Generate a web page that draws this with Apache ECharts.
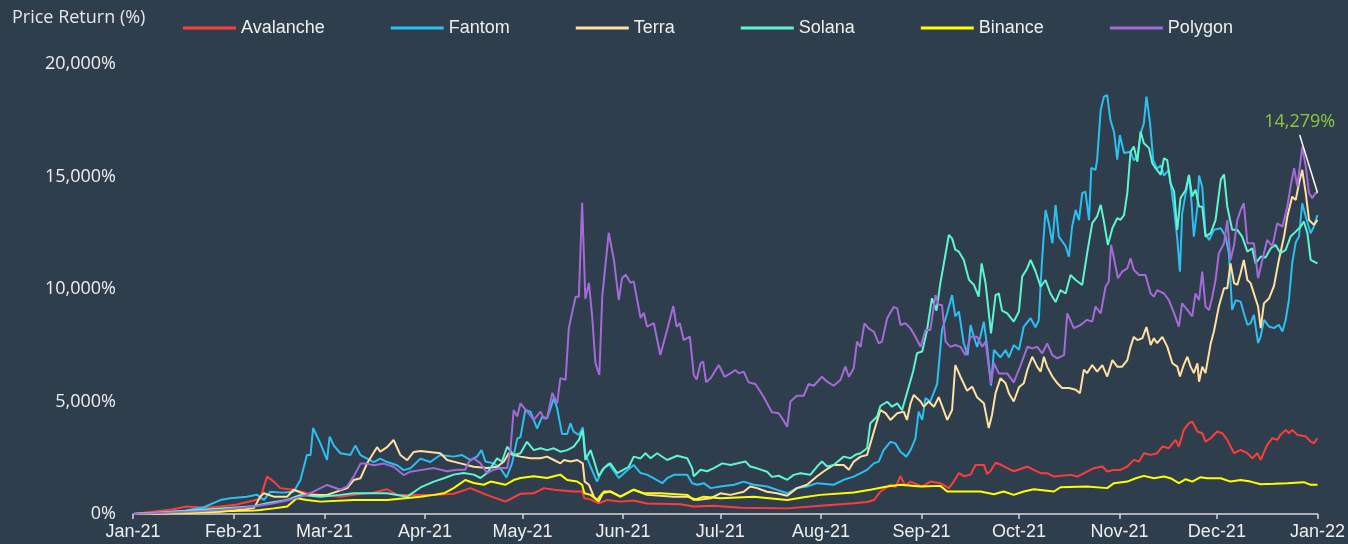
<!DOCTYPE html>
<html>
<head>
<meta charset="utf-8">
<script src="https://cdn.jsdelivr.net/npm/echarts@6/dist/echarts.min.js"></script>
<style>
  html, body { margin: 0; padding: 0; background: #2f3e4d; }
  #main { width: 1348px; height: 544px; }
</style>
</head>
<body>
<div id="main"></div>
<script>
// day of year (0 = 1 Jan 2021) and price return in %
var monthDays = [0, 31, 59, 90, 120, 151, 181, 212, 243, 273, 304, 334, 365];
var monthLabels = ['Jan-21', 'Feb-21', 'Mar-21', 'Apr-21', 'May-21', 'Jun-21', 'Jul-21', 'Aug-21', 'Sep-21', 'Oct-21', 'Nov-21', 'Dec-21', 'Jan-22'];

var avalancheDays = [0, 6, 12, 16.6, 22, 26.9, 32, 37.2, 39.2, 41.3, 43.4, 45.4, 49.5, 53.6, 57.7, 63.9, 68, 74, 78.3, 81.4, 88.6, 93.7, 98.8, 104, 109, 114.8, 119.4, 123.5, 126.6, 129.7, 135.8, 138.4, 139.1, 141, 143.5, 146.1, 150.2, 154.3, 158.4, 168.7, 172.8, 179, 187.2, 201.6, 211.8, 222.1, 226.2, 228.3, 230.3, 233.4, 235, 236.5, 238, 239.6, 243.2, 245.7, 248.8, 251.4, 252.9, 254.5, 256, 258.1, 259.6, 262.2, 263.2, 264.2, 265.8, 267.3, 269.4, 271.4, 273.5, 275.6, 277.6, 279.7, 281.7, 283.8, 288.9, 291, 294, 296.1, 298.7, 300.2, 302.3, 304.3, 306.4, 308.4, 310, 311.5, 313.6, 315.6, 317.2, 319.2, 321.3, 322.3, 323.8, 325.4, 326.4, 328, 329.5, 330.5, 332.1, 334.1, 335.7, 337.2, 339.3, 341.3, 343.4, 344.9, 346.5, 347.5, 349.5, 351.1, 352.6, 353.6, 355.2, 356.2, 357.2, 358.8, 361.4, 362.9, 363.9, 365];
var avalancheVals = [0, 100, 200, 330, 280, 330, 420, 600, 680, 1660, 1440, 1150, 1080, 920, 850, 770, 850, 950, 1100, 850, 850, 850, 900, 1150, 850, 550, 900, 920, 1150, 1080, 1000, 1000, 700, 650, 470, 620, 550, 600, 470, 430, 330, 370, 280, 250, 370, 480, 530, 620, 990, 1300, 1200, 1680, 1250, 1440, 1220, 1440, 1370, 1150, 1440, 1820, 1680, 1750, 2180, 2180, 1780, 1900, 2280, 2200, 2040, 1900, 2000, 2109, 1961, 1813, 1813, 1665, 1739, 1665, 1887, 2035, 2109, 1887, 1961, 1961, 2109, 2406, 2332, 2702, 2628, 2702, 2998, 2924, 3294, 2998, 3738, 4034, 4109, 3664, 3590, 3220, 3368, 3664, 3590, 3294, 2702, 2850, 2702, 2480, 2702, 2406, 3072, 3368, 3294, 3516, 3738, 3590, 3738, 3516, 3442, 3220, 3146, 3368];

var fantomDays = [0, 5, 11.5, 16, 21.8, 26.9, 30, 35.1, 38.2, 40.3, 42.3, 46, 49.5, 51.6, 53.6, 54.7, 55.5, 57.7, 59.8, 60.6, 61.9, 63.9, 67, 68.5, 70.1, 74.2, 76.2, 78.3, 81.4, 83.4, 85.5, 88.6, 91.6, 94.7, 98.8, 101.4, 104, 106, 107.4, 108.6, 111.2, 113.2, 115.1, 116.8, 118.4, 119.4, 120.9, 122.5, 124.5, 126.1, 127.6, 129.7, 130.7, 132.2, 133.8, 134.8, 135.8, 137.4, 138.6, 139.4, 141, 143, 144.6, 146.6, 148.2, 149.7, 151.8, 154.3, 156.4, 158.4, 160.5, 163.1, 164.6, 166.7, 170.8, 172.3, 173.9, 175.9, 178, 181, 185.2, 188.2, 191.3, 195.4, 198.5, 201.6, 204.6, 207.7, 210.8, 215.9, 219, 222.1, 226.2, 228.3, 229.8, 231.3, 233.4, 234.9, 236.5, 238.3, 239.6, 241.1, 242.1, 243.2, 244.2, 245.7, 247.8, 249.3, 250.9, 252.4, 253.4, 254.5, 256, 257.2, 258.1, 259.1, 260.1, 261.1, 262.2, 263.2, 264.4, 265.3, 267.3, 268.9, 269.9, 271.4, 273, 274.5, 276.6, 278.1, 279.1, 280, 281.2, 282.2, 283.3, 284.3, 285.3, 287.4, 288.4, 289.4, 290.5, 291.5, 292.5, 293.5, 294.6, 295.3, 296.6, 297.1, 298.2, 299.2, 300.2, 301.2, 302.3, 303.3, 304.1, 305.4, 307.4, 308.4, 309.5, 310.5, 311.5, 312.3, 313.4, 314.4, 315.6, 316.7, 317.7, 319.2, 320.8, 321.8, 322.6, 323.3, 324.4, 325.4, 326.2, 326.9, 328, 328.5, 329.5, 330.5, 331.6, 333.1, 335.2, 336.7, 337.7, 338.7, 339.8, 341.3, 342.3, 343.4, 344.4, 345.4, 346.7, 347.5, 348.5, 350.1, 351.6, 353.1, 354.2, 355.2, 356.2, 357.2, 358.3, 359.3, 360.3, 361.4, 362.9, 363.9, 365];
var fantomVals = [0, 40, 100, 150, 300, 620, 700, 770, 860, 620, 990, 950, 990, 1510, 2620, 2620, 3820, 3150, 2400, 3440, 3040, 2700, 2620, 3040, 2620, 2310, 2460, 2310, 2170, 1950, 2030, 2460, 2310, 2620, 2550, 2620, 2400, 2550, 2840, 2330, 2250, 2030, 1630, 2250, 3350, 3420, 4620, 4550, 3800, 4330, 4250, 5150, 4700, 3560, 3560, 4030, 3660, 3510, 3850, 2700, 2100, 1440, 1970, 2250, 1900, 1600, 1880, 2180, 1820, 1750, 1580, 1370, 1590, 1740, 1740, 1370, 1300, 1370, 1150, 1220, 1300, 1440, 1300, 1220, 1070, 920, 1150, 1220, 1370, 1300, 1520, 1660, 1960, 2250, 2330, 2840, 3210, 3140, 2770, 2550, 2840, 3350, 4550, 4180, 5150, 5000, 5780, 8180, 8930, 9730, 8780, 9000, 7590, 7060, 8400, 7880, 7430, 7880, 8550, 7430, 5700, 7290, 6960, 7290, 6960, 7510, 7300, 8330, 8700, 8300, 8600, 10990, 13510, 12920, 12030, 13730, 12330, 11900, 11440, 12780, 13510, 13060, 14260, 14330, 13060, 15380, 15300, 15750, 17950, 18550, 18620, 17510, 16990, 15750, 16840, 16040, 16100, 15720, 15880, 16910, 17370, 18550, 17370, 15720, 15340, 15500, 15040, 15290, 13560, 12230, 10770, 13360, 14250, 15040, 13810, 12330, 13660, 15040, 14530, 12480, 12180, 12630, 12700, 12330, 11590, 9070, 9500, 9440, 8930, 8410, 8480, 8850, 7600, 7900, 8630, 8330, 8260, 8410, 8110, 8630, 9510, 11140, 12070, 12330, 13810, 13210, 12480, 12780, 13290];

var terraDays = [0, 15, 26.9, 37.2, 39.2, 40.3, 43.4, 47.5, 49.5, 53.6, 59.8, 66, 68, 70.1, 72.1, 75.2, 76.2, 78.3, 80.3, 82.4, 84.5, 86.5, 88.6, 94.7, 96.8, 100.9, 105, 109.1, 112.2, 114.3, 115.8, 117.3, 119.4, 122.5, 125.6, 127.6, 129.7, 131.7, 132.8, 134.8, 136.9, 138.6, 139.2, 140.5, 142, 143.5, 145.1, 147.1, 150.2, 154.3, 158.4, 166.7, 170.8, 173.9, 178, 181, 184.1, 188.2, 190.2, 192.3, 195.4, 198.5, 201.6, 204.6, 207.7, 210.8, 212.9, 215.9, 219, 220.6, 222.1, 224.2, 226.2, 228.3, 230.3, 231.9, 233.4, 235.5, 237.5, 238.5, 239.6, 240.6, 242.7, 243.7, 245.2, 246.8, 248.3, 249.8, 250.9, 252.4, 253.4, 255, 257, 258.6, 260.1, 262.2, 263.7, 264.7, 265.8, 267.3, 268.9, 269.9, 271.4, 273, 274.5, 275.6, 277.1, 278.6, 279.7, 280.7, 281.7, 283.3, 284.8, 286.3, 288.4, 290.5, 291.8, 293, 294, 295.6, 297.1, 298.7, 300.2, 301.8, 303.3, 304.8, 306.4, 307.4, 308.4, 309.5, 311, 312.3, 313.6, 314.6, 315.6, 317.2, 318.7, 320.3, 321.8, 322.6, 323.8, 324.9, 325.9, 326.9, 328, 328.5, 329.5, 330.5, 332.1, 333.1, 334.6, 336.2, 337.2, 338.2, 339.3, 340.3, 341.3, 342.3, 343.4, 344.4, 345.9, 346.7, 347.5, 348.5, 350.1, 351.6, 353.1, 354.7, 355.7, 357.2, 358.3, 359.3, 360.3, 361.4, 362.4, 363.9, 365];
var terraVals = [0, 40, 100, 250, 770, 920, 770, 770, 1080, 850, 850, 1150, 1510, 1590, 2240, 2970, 2770, 2970, 3290, 2620, 2390, 2760, 2800, 2700, 2400, 2250, 2100, 2040, 2100, 2330, 2700, 2620, 2550, 2480, 2480, 2550, 2400, 2250, 2400, 2330, 2400, 2250, 1440, 1300, 770, 550, 1000, 1000, 770, 1080, 850, 770, 770, 620, 700, 920, 850, 990, 1220, 1150, 990, 920, 810, 1150, 1300, 1680, 1900, 2180, 2180, 1970, 2330, 2550, 2620, 3660, 4620, 4480, 4180, 4480, 4550, 4180, 4920, 5290, 5000, 4770, 5000, 4770, 5190, 4620, 4180, 4620, 6620, 6100, 5480, 5660, 5190, 4920, 3820, 4400, 5370, 6030, 5810, 5370, 5000, 5630, 5810, 6410, 6990, 6550, 6330, 6990, 6550, 6110, 5820, 5600, 5600, 5520, 5370, 6410, 6260, 6620, 6330, 6620, 6110, 6840, 6550, 6550, 6840, 7430, 7870, 7730, 7810, 8310, 7510, 7810, 7590, 7870, 7440, 6700, 6550, 6110, 6630, 6990, 6550, 6260, 6700, 5880, 6550, 6260, 7580, 8120, 9220, 10030, 10030, 11140, 10260, 10180, 10700, 11290, 10400, 10260, 9580, 9220, 8260, 9360, 9590, 10140, 11290, 12330, 13210, 14100, 13960, 14700, 15290, 14250, 13070, 12850, 13070];

var solanaDays = [0, 8, 16.6, 26.9, 37.2, 41.3, 47.5, 51.6, 57.7, 63.9, 68, 78.3, 84.5, 88.6, 92.7, 95.8, 98.8, 101.9, 105, 107.1, 109.1, 112.2, 113.7, 115.3, 117.3, 119.4, 121.4, 123.5, 125.6, 127.6, 129.7, 131.7, 133.8, 135.8, 137.4, 138.6, 139.4, 141, 142, 143.5, 145.1, 147.1, 149.2, 151.2, 152.8, 154.3, 156.4, 157.9, 159.5, 161.5, 164.6, 167.7, 170.8, 172.3, 172.8, 174.9, 176.9, 179, 181.6, 184.1, 188.7, 190.2, 192.3, 195.4, 196.9, 199, 201.6, 203.6, 205.7, 208.7, 210.8, 212.3, 213.9, 215.9, 219, 221.1, 222.6, 224.2, 226.2, 227.2, 229.3, 230.3, 232.4, 233.9, 235.5, 237, 238.5, 240.4, 241.6, 243.2, 244.7, 246.2, 247.6, 248.8, 249.8, 251.4, 252.4, 253.4, 254.5, 256, 257.6, 259.1, 260.6, 261.5, 262.7, 264.4, 265.8, 266.8, 267.8, 269.4, 271.4, 273, 274, 275.5, 276.6, 278.1, 279.7, 281.2, 282.7, 284.3, 285.8, 287.4, 288.9, 290.5, 292.5, 294.1, 295.6, 297.1, 298.2, 299.2, 300.4, 301.8, 303.3, 304.3, 305.4, 306.4, 307.4, 308.4, 309.5, 310.5, 311.5, 313.1, 314.1, 315.1, 316.7, 317.7, 318.7, 319.7, 320.8, 321.8, 322.8, 324.4, 325.4, 326.4, 327.4, 328.5, 329.5, 330.5, 332.1, 333.6, 335.2, 336.2, 337.2, 338.7, 340.3, 341.8, 343.4, 344.9, 345.9, 347.5, 349, 350.6, 352.1, 353.6, 355.2, 356.7, 358.3, 359.8, 360.8, 361.9, 362.9, 363.9, 365];
var solanaVals = [0, 60, 150, 250, 350, 480, 620, 850, 770, 850, 920, 920, 770, 1180, 1440, 1590, 1750, 1820, 1750, 1600, 1820, 2470, 2330, 2990, 2620, 2700, 3210, 2840, 2920, 2840, 2920, 2770, 2840, 2990, 3290, 3730, 2400, 2840, 2400, 1680, 2030, 2250, 1820, 1970, 2100, 2550, 2470, 2700, 2480, 2700, 2400, 2590, 2480, 2040, 1680, 1970, 1900, 2040, 2250, 2180, 2330, 2110, 2030, 1880, 1650, 1700, 1520, 1740, 1810, 1740, 2110, 2330, 2110, 2180, 2550, 2480, 2630, 2700, 2920, 4030, 4330, 4800, 4990, 4770, 4920, 4620, 5380, 6330, 7150, 7220, 8180, 9590, 9040, 10270, 11070, 12400, 12250, 11750, 11660, 11290, 10410, 10190, 9660, 11140, 10270, 8030, 9730, 9800, 9040, 8920, 8550, 9000, 10550, 10900, 11290, 10800, 10100, 10400, 9800, 9420, 9950, 9800, 10620, 10400, 10180, 11660, 12930, 13230, 13740, 13000, 11960, 12700, 13150, 13070, 13290, 14270, 16100, 16330, 15660, 17000, 16480, 16260, 15590, 15370, 15070, 15810, 15730, 14710, 14340, 12630, 14040, 14400, 15070, 14120, 14410, 13670, 13660, 12330, 12480, 13070, 14860, 15090, 13670, 12630, 12630, 12330, 11660, 11810, 11140, 11440, 11400, 11810, 11960, 11590, 11740, 12330, 12550, 12770, 13000, 12480, 11290, 11220, 11140];

var binanceDays = [0, 16.6, 26.9, 37.2, 39.2, 43.4, 47.5, 50.5, 53.6, 57.7, 68, 78.3, 88.6, 92.7, 95.8, 98.8, 102.4, 105, 108.1, 110.2, 114.8, 117.3, 119.4, 123.5, 127.6, 129.7, 131.7, 133.8, 136.9, 138.4, 139.1, 141, 143, 144.6, 147.1, 150.2, 154.3, 157.4, 162.5, 170.8, 172.8, 175.9, 181, 191.3, 201.6, 206.7, 211.8, 222.1, 227.2, 232.4, 236.5, 242.7, 248.8, 250.9, 255, 261.1, 265.3, 268.3, 271.4, 274.5, 277.6, 283.8, 285.8, 294, 300.2, 302.3, 306.4, 309, 311.5, 314.6, 317.7, 319.7, 322.3, 324.4, 326.4, 329, 331, 335.2, 338.2, 341.3, 344.4, 347.5, 351.6, 355.7, 360.8, 362.9, 365];
var binanceVals = [0, 60, 120, 150, 180, 250, 330, 700, 620, 550, 620, 620, 770, 850, 920, 1150, 1510, 1380, 1300, 1440, 1300, 1510, 1600, 1680, 1600, 1680, 1750, 1510, 1440, 1300, 920, 850, 620, 920, 1000, 770, 1080, 920, 920, 850, 620, 770, 700, 770, 620, 740, 850, 960, 1080, 1220, 1300, 1220, 1250, 1000, 1000, 1000, 880, 1000, 850, 1000, 1100, 1000, 1190, 1220, 1150, 1370, 1440, 1590, 1695, 1590, 1665, 1590, 1370, 1547, 1440, 1635, 1590, 1590, 1440, 1510, 1440, 1325, 1340, 1370, 1414, 1295, 1295];

var polygonDays = [0, 10, 20, 26.9, 37.2, 43.4, 47.5, 53.6, 59.8, 63.9, 66, 68, 70.1, 72.1, 74.2, 77.3, 80.3, 83.4, 85.5, 88.6, 92.7, 96.8, 99.9, 102.4, 103.5, 105, 107.1, 109.1, 111.2, 113.2, 115.3, 116.3, 117.3, 118.4, 119.4, 121.5, 123.5, 125.6, 126.6, 127.6, 129.2, 130.7, 131.7, 133.3, 134.3, 136.4, 137.4, 138.4, 139.4, 140.5, 141.5, 142.5, 143.7, 144.6, 146.6, 148.2, 149.7, 150.7, 151.8, 153.3, 154.3, 156.4, 157.4, 158.4, 160.5, 162.5, 164.6, 166.5, 167.5, 168.5, 169.7, 171.6, 172.8, 173.7, 174.9, 175.7, 176.6, 178, 180.5, 182.3, 184.1, 185.6, 186.7, 188.2, 189.7, 191.8, 194.4, 196.9, 199, 200.5, 201.6, 202.6, 204.6, 206.7, 208.2, 209.8, 212.3, 213.9, 215.9, 218, 219.5, 220.6, 222.1, 223.1, 224.2, 225.4, 226.7, 228.3, 229.8, 230.8, 232.4, 234.4, 235.5, 236.5, 238, 239.6, 241.1, 242.7, 244.2, 245.7, 247.3, 248.3, 249.3, 250.4, 251.9, 253.4, 255, 256.5, 258.1, 260.1, 261.7, 262.7, 264.4, 265.3, 266.8, 269.4, 271.4, 273.5, 275.6, 277.1, 278.6, 280.2, 281.7, 283.3, 284.8, 286.9, 287.9, 289.9, 292, 294, 295.6, 296.6, 298.2, 299.7, 300.7, 301.4, 302.3, 303.5, 304.8, 306.4, 307.4, 308.4, 310, 312, 313.6, 314.6, 315.6, 317.7, 319.2, 320.8, 322.3, 323.3, 324.9, 326.4, 327.4, 328.5, 329.5, 330.5, 331.6, 332.6, 333.6, 334.6, 336.2, 337.2, 338.2, 339.3, 340.3, 341.3, 342.3, 343.4, 344.4, 345.4, 346.7, 348, 349.5, 351.1, 352.6, 354.2, 355.7, 356.7, 357.8, 358.8, 360.3, 361.4, 362.4, 363.4, 364.4, 365];
var polygonVals = [0, 60, 120, 180, 330, 480, 600, 850, 1290, 1080, 1230, 1660, 2240, 2240, 2170, 2240, 2100, 1730, 1880, 1950, 2040, 1900, 1970, 1970, 2330, 2470, 2250, 1820, 1970, 2040, 2040, 2840, 4620, 4330, 4920, 4550, 4180, 4550, 4250, 4250, 5380, 4920, 6040, 5960, 8270, 9660, 9660, 13830, 9560, 10270, 8770, 6700, 6180, 9660, 12500, 11290, 9510, 10480, 10640, 10280, 10340, 8710, 8940, 8330, 8480, 7070, 8190, 9240, 8330, 8480, 7730, 7880, 6180, 5980, 6700, 6770, 5860, 6030, 6620, 6100, 6250, 6400, 6250, 6330, 5850, 5780, 5190, 4520, 4480, 4150, 3880, 5000, 5260, 5260, 5780, 5700, 6100, 5880, 5700, 5960, 6550, 6100, 6480, 7660, 7430, 8470, 8250, 8100, 7580, 7660, 8700, 9200, 9140, 8400, 8480, 8250, 7880, 7430, 8180, 8180, 9730, 9290, 9290, 7660, 7430, 7510, 7430, 7060, 7880, 7880, 7430, 7660, 5780, 6700, 6250, 6250, 5850, 6600, 7430, 7360, 7430, 7140, 7580, 7060, 6920, 7060, 8920, 8260, 8400, 8630, 8550, 9220, 8920, 10100, 10330, 11960, 11360, 10480, 10770, 10920, 11360, 10850, 10620, 10620, 9800, 9660, 9950, 9800, 9510, 8930, 8330, 9360, 9070, 8780, 9800, 9510, 10770, 9220, 9070, 9660, 10410, 11590, 12030, 13060, 11290, 11960, 13060, 13500, 13810, 12030, 12030, 12030, 10480, 11290, 12180, 11890, 12920, 12770, 13660, 14550, 15370, 14550, 16330, 15440, 14260, 14040, 14260, 14279];

var seriesNames = ['Avalanche', 'Fantom', 'Terra', 'Solana', 'Binance', 'Polygon'];
var seriesColors = ['#ff3c3c', '#2bbff2', '#ffe09e', '#5ef5d0', '#ffff00', '#a46bd8'];
var seriesDays = [avalancheDays, fantomDays, terraDays, solanaDays, binanceDays, polygonDays];
var seriesVals = [avalancheVals, fantomVals, terraVals, solanaVals, binanceVals, polygonVals];

var lastLabel = '14,279%';

var myChart = echarts.init(document.getElementById('main'));

var series = seriesNames.map(function (name, k) {
    var s = {
        name: name,
        type: 'line',
        showSymbol: false,
        symbol: 'none',
        color: seriesColors[k],
        lineStyle: { width: 2, color: seriesColors[k] },
        data: seriesDays[k].map(function (d, i) { return [d, seriesVals[k][i]]; })
    };
    if (name === 'Polygon') {
        var n = polygonDays.length - 1;
        // pointer from the label down to the last value
        s.markLine = {
            silent: true,
            symbol: ['none', 'none'],
            label: { show: false },
            lineStyle: { color: '#ffffff', width: 1.5, type: 'solid' },
            data: [[{ coord: [359.5, 16850] }, { coord: [polygonDays[n], polygonVals[n]] }]]
        };
        s.markPoint = {
            silent: true,
            symbol: 'rect',
            symbolSize: 1,
            itemStyle: { color: 'rgba(0,0,0,0)' },
            label: {
                show: true,
                formatter: lastLabel,
                color: '#8dc641',
                fontSize: 18,
                fontFamily: 'Open Sans'
            },
            data: [{ coord: [359.5, 17450] }]
        };
    }
    return s;
});

myChart.setOption({
    backgroundColor: '#2f3e4d',
    animation: false,
    title: {
        text: 'Price Return (%)',
        left: 12,
        top: 9,
        padding: 0,
        textStyle: { color: '#e6e6e6', fontSize: 18, fontWeight: 'normal', fontFamily: 'Open Sans' }
    },
    legend: {
        left: 183,
        top: 19,
        padding: 0,
        icon: 'rect',
        itemWidth: 53,
        itemHeight: 3,
        itemGap: 66,
        textStyle: { color: '#eeeeee', fontSize: 18, fontFamily: 'Liberation Sans, Arial' },
        data: seriesNames
    },
    grid: { left: 133, right: 30, top: 64, bottom: 30 },
    xAxis: {
        type: 'value',
        min: 0,
        max: 365,
        axisLine: { lineStyle: { color: '#d8d8d8', width: 1.5 } },
        axisTick: { customValues: monthDays, length: 5, lineStyle: { color: '#d8d8d8', width: 1.5 } },
        axisLabel: {
            customValues: monthDays,
            color: '#eeeeee',
            fontSize: 18,
            fontFamily: 'Liberation Sans, Arial',
            margin: 9,
            formatter: function (v) { return monthLabels[monthDays.indexOf(v)]; }
        },
        splitLine: { show: false }
    },
    yAxis: {
        type: 'value',
        min: 0,
        max: 20000,
        interval: 5000,
        axisLine: { show: false },
        axisTick: { show: false },
        splitLine: { show: false },
        axisLabel: {
            color: '#eeeeee',
            fontSize: 18,
            fontFamily: 'Open Sans',
            margin: 17,
            formatter: function (v) { return v.toLocaleString('en-US') + '%'; }
        }
    },
    series: series
});
</script>
</body>
</html>
